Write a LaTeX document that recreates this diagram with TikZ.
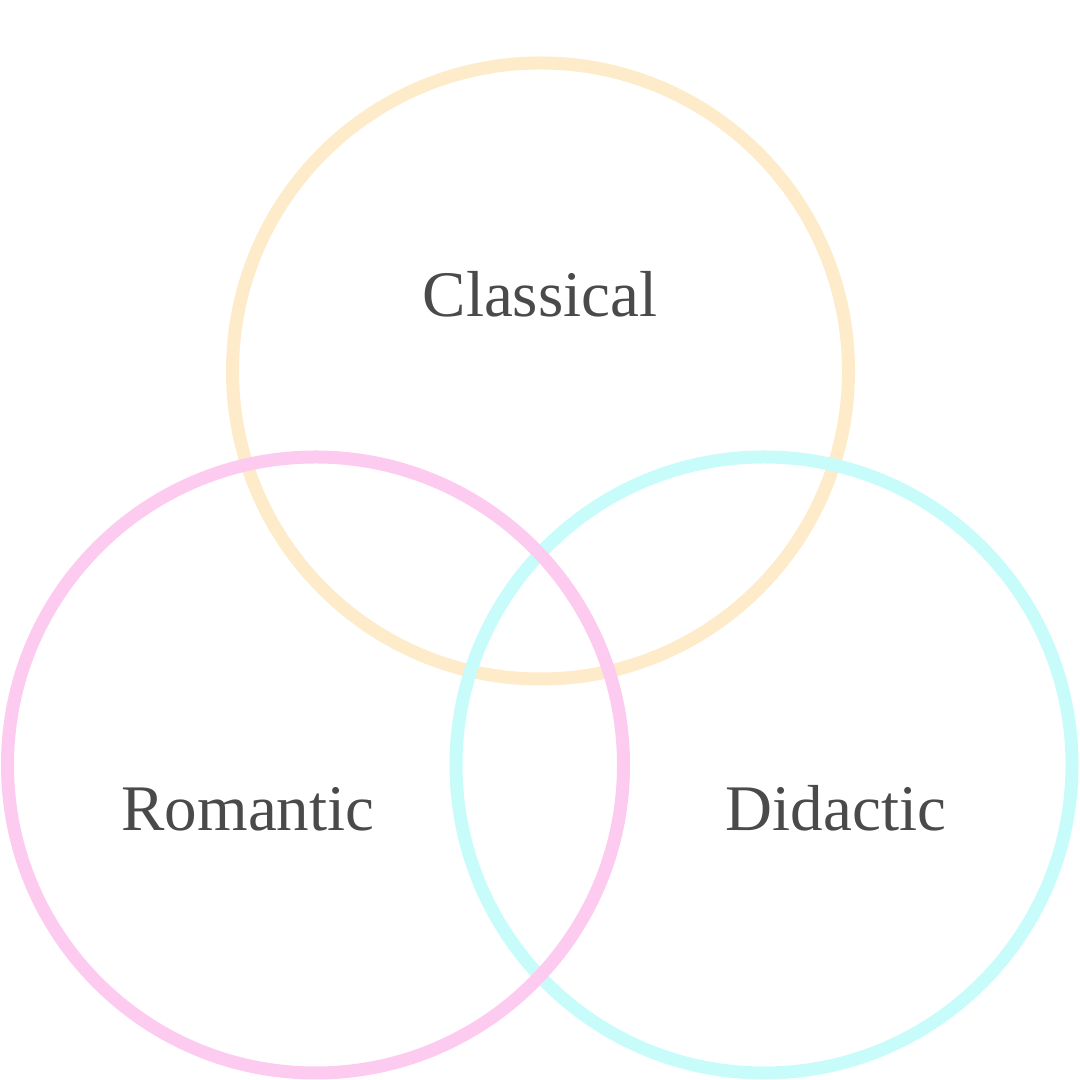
\documentclass[tikz,border=0pt]{standalone}
\usepackage{fontspec}
\setmainfont{Liberation Serif}
\usepackage{xcolor}
\usepackage{tikz}
\usetikzlibrary{positioning}
\definecolor{peachring}{HTML}{FDEBCA}
\definecolor{pinkring}{HTML}{FCCBEF}
\definecolor{cyanring}{HTML}{C8FCFB}
\definecolor{labelgray}{HTML}{4A4A4A}

\begin{document}
\begin{tikzpicture}[
  ring/.style={draw=#1,circle,line width=0.13cm,minimum size=6.16cm,inner sep=0pt},
  setname/.style={anchor=base,text=labelgray,font=\fontsize{18.5}{22}\selectfont}]
  \useasboundingbox (0,0) rectangle (10.8,10.8);
  \node[ring=peachring](classical) at (5.405,7.09){};
  \node[ring=cyanring](didactic) at (7.64,3.15){};
  \node[ring=pinkring](romantic) at (3.155,3.15){};
  \node[setname](classicaltext) at (5.40,7.63){Classical};
  \node[setname](romantictext) at (2.48,2.49){Romantic};
  \node[setname](didactictext) at (8.36,2.49){Didactic};
\end{tikzpicture}
\end{document}
